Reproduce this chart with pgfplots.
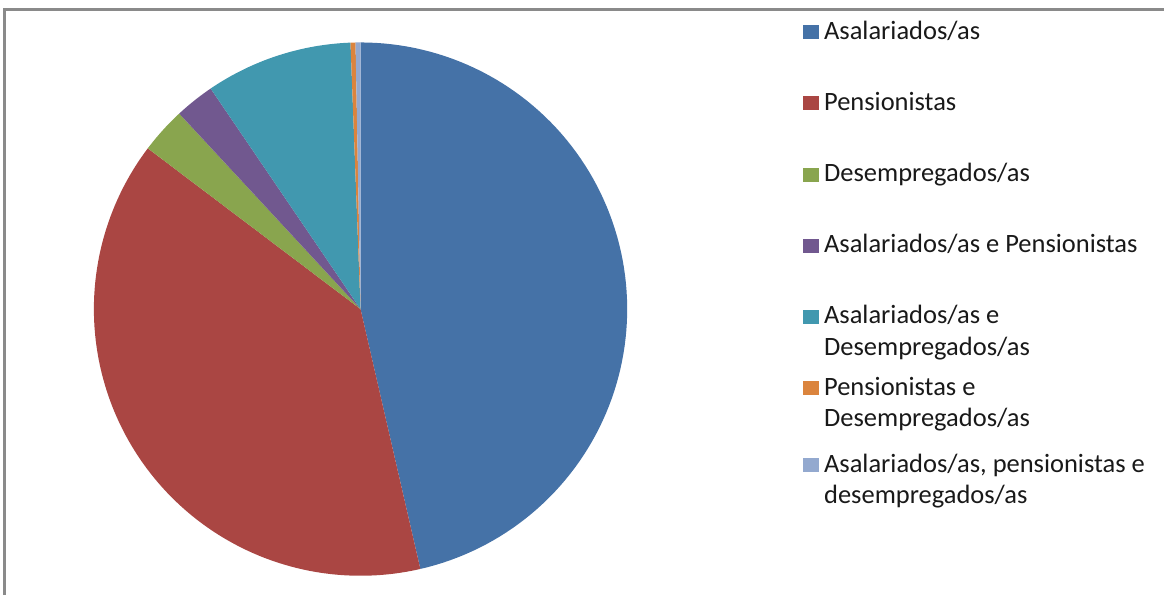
\documentclass[border=0pt]{standalone}
\usepackage{pgfplots}
\pgfplotsset{compat=1.18}
\usepackage{fontspec}
\setmainfont{Carlito}

\definecolor{cA}{HTML}{4572A7}
\definecolor{cB}{HTML}{AA4643}
\definecolor{cC}{HTML}{89A54E}
\definecolor{cD}{HTML}{71588F}
\definecolor{cE}{HTML}{4198AF}
\definecolor{cF}{HTML}{DB843D}
\definecolor{cG}{HTML}{93A9CF}
\definecolor{frame}{HTML}{8A8A8A}

% shares in percent
\newcommand\vA{46.4}  % Asalariados/as
\newcommand\vB{38.9}  % Pensionistas
\newcommand\vC{2.8}   % Desempregados/as
\newcommand\vD{2.4}   % Asalariados/as e Pensionistas
\newcommand\vE{8.9}   % Asalariados/as e Desempregados/as
\newcommand\vF{0.3}   % Pensionistas e Desempregados/as
\newcommand\vG{0.3}   % os tres

% cumulative angles, clockwise from 12 o'clock
\pgfmathsetmacro\aA{0}
\pgfmathsetmacro\aB{\aA+3.6*\vA}
\pgfmathsetmacro\aC{\aB+3.6*\vB}
\pgfmathsetmacro\aD{\aC+3.6*\vC}
\pgfmathsetmacro\aE{\aD+3.6*\vD}
\pgfmathsetmacro\aF{\aE+3.6*\vE}
\pgfmathsetmacro\aG{\aF+3.6*\vF}
\pgfmathsetmacro\aH{\aG+3.6*\vG}

% pie centre and radius in axis units (1 unit = 1pt)
\newcommand\slice[3]{%
  \addplot[fill=#1, draw=none, domain=#2:#3, samples=100]
    ({361+267*sin(x)}, {286.5+267*cos(x)}) -- (361,286.5) -- cycle;}

\begin{document}
\begin{tikzpicture}
\begin{axis}[
    scale only axis,
    width=1165pt, height=596pt,
    xmin=0, xmax=1165, ymin=0, ymax=596,
    hide axis,
    clip=false,
    legend image code/.code={\fill[#1] (0pt,0pt) rectangle (16pt,14pt);},
    legend style={
        at={(axis cs:804,572)}, anchor=north west,
        draw=none, fill=none, inner sep=0pt,
        row sep=56.3pt, column sep=5pt,
        font=\fontsize{26.5}{31.5}\selectfont,
        text=black!90,
        nodes={inner sep=0pt, text height=15pt, text depth=0pt},
        cells={anchor=base west},
    },
]
\path (axis cs:0,0) rectangle (axis cs:1165,596);
\draw[frame, line width=3pt] (axis cs:5,0) -- (axis cs:5,586) -- (axis cs:1165,586);

\slice{cA}{\aA}{\aB}
\addlegendentry{Asalariados/as}
\slice{cB}{\aB}{\aC}
\addlegendentry{Pensionistas}
\slice{cC}{\aC}{\aD}
\addlegendentry{Desempregados/as}
\slice{cD}{\aD}{\aE}
\addlegendentry{Asalariados/as e Pensionistas}
\slice{cE}{\aE}{\aF}
\addlegendentry{\begin{tabular}[t]{@{}l@{}}Asalariados/as e\\Desempregados/as\end{tabular}}
\slice{cF}{\aF}{\aG}
\addlegendentry[text depth=6pt]{\begin{tabular}[t]{@{}l@{}}Pensionistas e\\Desempregados/as\end{tabular}}
\slice{cG}{\aG}{\aH}
\addlegendentry{\begin{tabular}[t]{@{}l@{}}Asalariados/as, pensionistas e\\desempregados/as\end{tabular}}
\end{axis}
\end{tikzpicture}
\end{document}
